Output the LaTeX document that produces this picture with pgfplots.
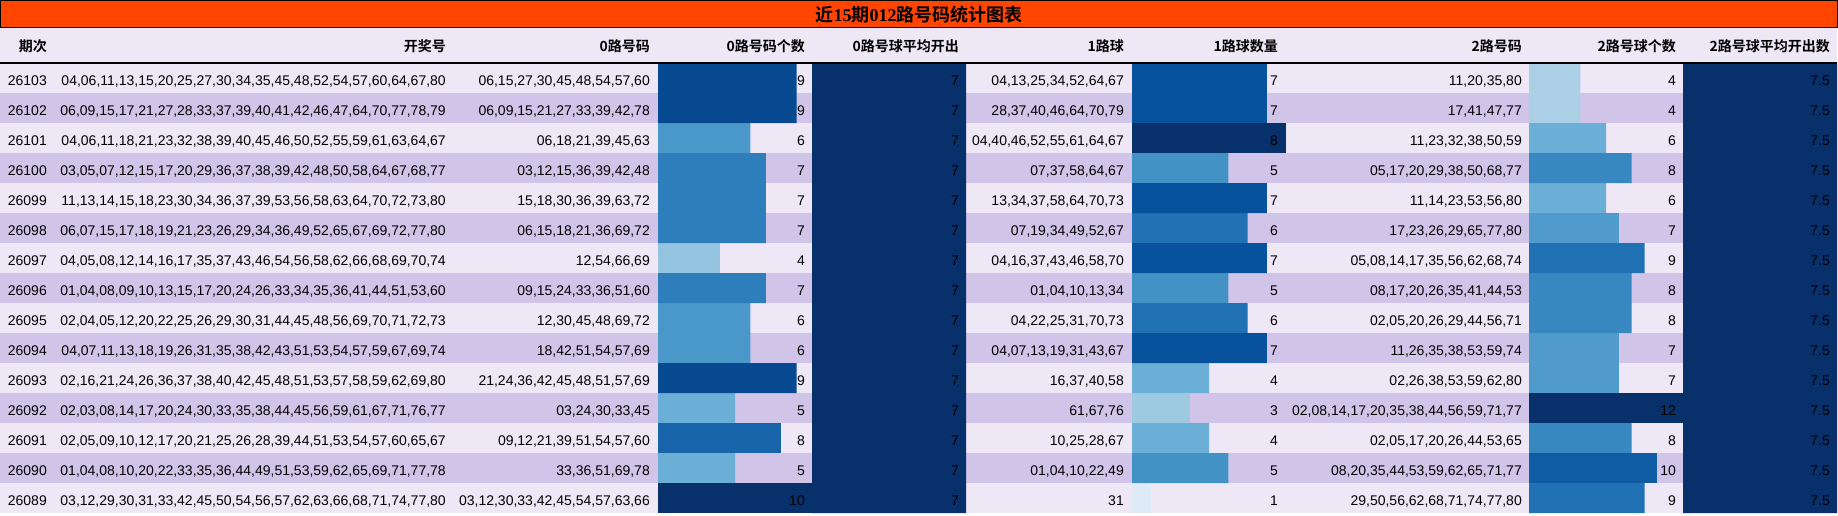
\documentclass[border=0pt]{standalone}
\usepackage{pgfplots}
\pgfplotsset{compat=1.18}
\usepackage{pgfplotstable}
\usepackage{fontspec}
\setmainfont{Liberation Sans}
\newfontfamily\cjk{Noto Sans CJK SC}[BoldFont={Noto Sans CJK SC Bold}]
\newfontfamily\titleserif{Liberation Serif}

\definecolor{rowA}{HTML}{EDE7F6}
\definecolor{rowB}{HTML}{D1C4E9}
\definecolor{titlebg}{HTML}{FF4500}
% samples of the Blues colormap at value/max
\definecolor{bl0125}{RGB}{222,235,247}
\definecolor{bl0333}{RGB}{171,208,230}
\definecolor{bl0375}{RGB}{158,202,225}
\definecolor{bl0400}{RGB}{148,196,223}
\definecolor{bl0500}{RGB}{107,174,214}
\definecolor{bl0583}{RGB}{80,155,203}
\definecolor{bl0600}{RGB}{74,152,201}
\definecolor{bl0625}{RGB}{66,146,198}
\definecolor{bl0667}{RGB}{55,135,192}
\definecolor{bl0700}{RGB}{46,126,188}
\definecolor{bl0750}{RGB}{33,113,181}
\definecolor{bl0800}{RGB}{23,100,171}
\definecolor{bl0833}{RGB}{16,92,164}
\definecolor{bl0875}{RGB}{8,81,156}
\definecolor{bl0900}{RGB}{8,74,146}
\definecolor{bl1000}{RGB}{8,48,107}

\pgfplotstableread[col sep=semicolon]{
r;qi;kj;z0;n0;a0;z1;n1;z2;n2;a2
1;26103;04,06,11,13,15,20,25,27,30,34,35,45,48,52,54,57,60,64,67,80;06,15,27,30,45,48,54,57,60;9;7;04,13,25,34,52,64,67;7;11,20,35,80;4;7.5
2;26102;06,09,15,17,21,27,28,33,37,39,40,41,42,46,47,64,70,77,78,79;06,09,15,21,27,33,39,42,78;9;7;28,37,40,46,64,70,79;7;17,41,47,77;4;7.5
3;26101;04,06,11,18,21,23,32,38,39,40,45,46,50,52,55,59,61,63,64,67;06,18,21,39,45,63;6;7;04,40,46,52,55,61,64,67;8;11,23,32,38,50,59;6;7.5
4;26100;03,05,07,12,15,17,20,29,36,37,38,39,42,48,50,58,64,67,68,77;03,12,15,36,39,42,48;7;7;07,37,58,64,67;5;05,17,20,29,38,50,68,77;8;7.5
5;26099;11,13,14,15,18,23,30,34,36,37,39,53,56,58,63,64,70,72,73,80;15,18,30,36,39,63,72;7;7;13,34,37,58,64,70,73;7;11,14,23,53,56,80;6;7.5
6;26098;06,07,15,17,18,19,21,23,26,29,34,36,49,52,65,67,69,72,77,80;06,15,18,21,36,69,72;7;7;07,19,34,49,52,67;6;17,23,26,29,65,77,80;7;7.5
7;26097;04,05,08,12,14,16,17,35,37,43,46,54,56,58,62,66,68,69,70,74;12,54,66,69;4;7;04,16,37,43,46,58,70;7;05,08,14,17,35,56,62,68,74;9;7.5
8;26096;01,04,08,09,10,13,15,17,20,24,26,33,34,35,36,41,44,51,53,60;09,15,24,33,36,51,60;7;7;01,04,10,13,34;5;08,17,20,26,35,41,44,53;8;7.5
9;26095;02,04,05,12,20,22,25,26,29,30,31,44,45,48,56,69,70,71,72,73;12,30,45,48,69,72;6;7;04,22,25,31,70,73;6;02,05,20,26,29,44,56,71;8;7.5
10;26094;04,07,11,13,18,19,26,31,35,38,42,43,51,53,54,57,59,67,69,74;18,42,51,54,57,69;6;7;04,07,13,19,31,43,67;7;11,26,35,38,53,59,74;7;7.5
11;26093;02,16,21,24,26,36,37,38,40,42,45,48,51,53,57,58,59,62,69,80;21,24,36,42,45,48,51,57,69;9;7;16,37,40,58;4;02,26,38,53,59,62,80;7;7.5
12;26092;02,03,08,14,17,20,24,30,33,35,38,44,45,56,59,61,67,71,76,77;03,24,30,33,45;5;7;61,67,76;3;02,08,14,17,20,35,38,44,56,59,71,77;12;7.5
13;26091;02,05,09,10,12,17,20,21,25,26,28,39,44,51,53,54,57,60,65,67;09,12,21,39,51,54,57,60;8;7;10,25,28,67;4;02,05,17,20,26,44,53,65;8;7.5
14;26090;01,04,08,10,20,22,33,35,36,44,49,51,53,59,62,65,69,71,77,78;33,36,51,69,78;5;7;01,04,10,22,49;5;08,20,35,44,53,59,62,65,71,77;10;7.5
15;26089;03,12,29,30,31,33,42,45,50,54,56,57,62,63,66,68,71,74,77,80;03,12,30,33,42,45,54,57,63,66;10;7;31;1;29,50,56,62,68,71,74,77,80;9;7.5
}\draws

\pgfplotsset{
  barax/.style={anchor=north west, width=154pt, height=450pt, scale only axis,
    hide axis, xmin=0, ymin=0.5, ymax=15.5, y dir=reverse},
  bar0/.style={xbar, bar width=1, bar shift=0pt, draw=none},
}

\tikzset{
  cell/.style={anchor=base east, inner sep=0pt, font=\fontsize{14}{16}\selectfont},
  hd/.style={anchor=base east, inner sep=0pt, font=\cjk\bfseries\fontsize{14}{16}\selectfont},
}

% one text column: key, right edge
\newcommand\textcol[2]{%
  \pgfplotstableforeachcolumnelement{#1}\of\draws\as\cell{%
    \node[cell] at (#2,{85+30*\pgfplotstablerow}) {\cell};}}

\begin{document}
\begin{tikzpicture}[x=1pt, y=-1pt]
\useasboundingbox (0,0) rectangle (1838,515);

% title bar, header and row stripes
\fill[rowA] (0,27) rectangle (1837,513);
\foreach \i in {1,3,...,13}
  \fill[rowB] (0,{63+30*\i}) rectangle (1837,{93+30*\i});
\filldraw[fill=titlebg, draw=black, line width=1pt] (0.5,0.5) rectangle (1837,27);
\node[anchor=base, inner sep=0pt, font=\cjk\bfseries\fontsize{18}{20}\selectfont]
  at (919,21.5) {近{\titleserif\bfseries 15}期{\titleserif\bfseries 012}路号码统计图表};

% 0路号码个数
\begin{axis}[barax, at={(658pt,-63pt)}, xmax=10]
  \addplot[bar0, fill=bl0400] table[x=n0, y=r, restrict x to domain=4:4] {\draws};
  \addplot[bar0, fill=bl0500] table[x=n0, y=r, restrict x to domain=5:5] {\draws};
  \addplot[bar0, fill=bl0600] table[x=n0, y=r, restrict x to domain=6:6] {\draws};
  \addplot[bar0, fill=bl0700] table[x=n0, y=r, restrict x to domain=7:7] {\draws};
  \addplot[bar0, fill=bl0800] table[x=n0, y=r, restrict x to domain=8:8] {\draws};
  \addplot[bar0, fill=bl0900] table[x=n0, y=r, restrict x to domain=9:9] {\draws};
  \addplot[bar0, fill=bl1000] table[x=n0, y=r, restrict x to domain=10:10] {\draws};
\end{axis}

% 0路号球平均开出
\begin{axis}[barax, at={(812pt,-63pt)}, xmax=7]
  \addplot[bar0, fill=bl1000] table[x=a0, y=r] {\draws};
\end{axis}

% 1路球数量
\begin{axis}[barax, at={(1132pt,-63pt)}, xmax=8]
  \addplot[bar0, fill=bl0125] table[x=n1, y=r, restrict x to domain=1:1] {\draws};
  \addplot[bar0, fill=bl0375] table[x=n1, y=r, restrict x to domain=3:3] {\draws};
  \addplot[bar0, fill=bl0500] table[x=n1, y=r, restrict x to domain=4:4] {\draws};
  \addplot[bar0, fill=bl0625] table[x=n1, y=r, restrict x to domain=5:5] {\draws};
  \addplot[bar0, fill=bl0750] table[x=n1, y=r, restrict x to domain=6:6] {\draws};
  \addplot[bar0, fill=bl0875] table[x=n1, y=r, restrict x to domain=7:7] {\draws};
  \addplot[bar0, fill=bl1000] table[x=n1, y=r, restrict x to domain=8:8] {\draws};
\end{axis}

% 2路号球个数
\begin{axis}[barax, at={(1529pt,-63pt)}, xmax=12]
  \addplot[bar0, fill=bl0333] table[x=n2, y=r, restrict x to domain=4:4] {\draws};
  \addplot[bar0, fill=bl0500] table[x=n2, y=r, restrict x to domain=6:6] {\draws};
  \addplot[bar0, fill=bl0583] table[x=n2, y=r, restrict x to domain=7:7] {\draws};
  \addplot[bar0, fill=bl0667] table[x=n2, y=r, restrict x to domain=8:8] {\draws};
  \addplot[bar0, fill=bl0750] table[x=n2, y=r, restrict x to domain=9:9] {\draws};
  \addplot[bar0, fill=bl0833] table[x=n2, y=r, restrict x to domain=10:10] {\draws};
  \addplot[bar0, fill=bl1000] table[x=n2, y=r, restrict x to domain=12:12] {\draws};
\end{axis}

% 2路号球平均开出数
\begin{axis}[barax, at={(1683pt,-63pt)}, xmax=7.5]
  \addplot[bar0, fill=bl1000] table[x=a2, y=r] {\draws};
\end{axis}

\draw[line width=1.5pt] (0,63) -- (1837,63);

% header
\node[hd] at (47,51.5) {期次};
\node[hd] at (446,51.5) {开奖号};
\node[hd] at (650,51.5) {0路号码};
\node[hd] at (805,51.5) {0路号码个数};
\node[hd] at (959,51.5) {0路号球平均开出};
\node[hd] at (1124,51.5) {1路球};
\node[hd] at (1278,51.5) {1路球数量};
\node[hd] at (1522,51.5) {2路号码};
\node[hd] at (1676,51.5) {2路号球个数};
\node[hd] at (1830,51.5) {2路号球平均开出数};

% cells
\textcol{qi}{47}
\textcol{kj}{446}
\textcol{z0}{650}
\textcol{n0}{805}
\textcol{a0}{959}
\textcol{z1}{1124}
\textcol{n1}{1278}
\textcol{z2}{1522}
\textcol{n2}{1676}
\textcol{a2}{1830}
\end{tikzpicture}
\end{document}
